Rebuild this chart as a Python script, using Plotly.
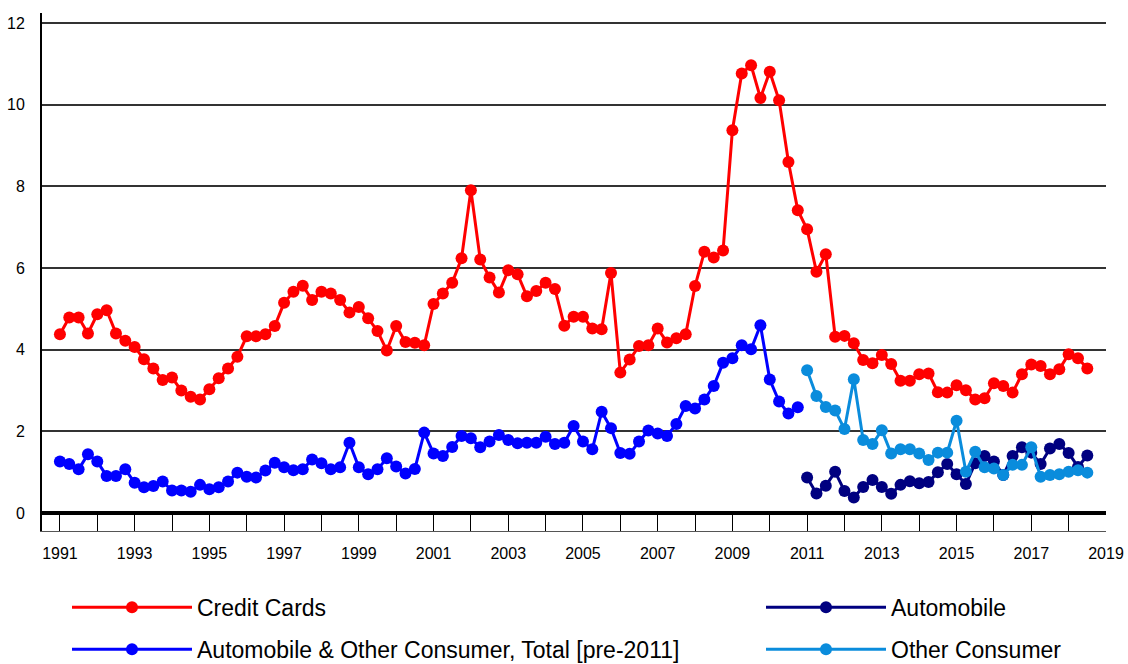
import plotly.graph_objects as go

# Quarterly observations (decimal year positions)
credit_cards = [
    4.38, 4.79, 4.79, 4.40, 4.87, 4.97, 4.40, 4.22,   # 1991-1992
    4.07, 3.77, 3.54, 3.26, 3.32, 3.00, 2.85, 2.78,   # 1993-1994
    3.03, 3.30, 3.54, 3.83, 4.33, 4.33, 4.38, 4.58,   # 1995-1996
    5.15, 5.42, 5.57, 5.22, 5.42, 5.38, 5.22, 4.91,   # 1997-1998
    5.05, 4.77, 4.46, 3.98, 4.58, 4.19, 4.17, 4.11,   # 1999-2000
    5.12, 5.38, 5.64, 6.24, 7.91, 6.21, 5.77, 5.40,   # 2001-2002
    5.95, 5.85, 5.31, 5.44, 5.64, 5.49, 4.59, 4.81,   # 2003-2004
    4.81, 4.52, 4.50, 5.88, 3.44, 3.76, 4.09, 4.11,   # 2005-2006
    4.52, 4.18, 4.28, 4.38, 5.56, 6.40, 6.26, 6.43,   # 2007-2008
    9.38, 10.77, 10.97, 10.17, 10.81, 10.11, 8.60, 7.42,  # 2009-2010
    6.95, 5.91, 6.34, 4.32, 4.34, 4.16, 3.75, 3.67,   # 2011-2012
    3.87, 3.65, 3.24, 3.24, 3.40, 3.42, 2.96, 2.95,   # 2013-2014
    3.13, 3.01, 2.78, 2.81, 3.18, 3.11, 2.95, 3.40,   # 2015-2016
    3.64, 3.60, 3.40, 3.52, 3.89, 3.79, 3.54,         # 2017-2018Q3
]

auto_other_total = [
    1.26, 1.20, 1.07, 1.44, 1.26, 0.91, 0.91, 1.07,   # 1991-1992
    0.74, 0.63, 0.66, 0.77, 0.55, 0.55, 0.52, 0.69,   # 1993-1994
    0.58, 0.63, 0.77, 0.99, 0.89, 0.87, 1.04, 1.23,   # 1995-1996
    1.12, 1.05, 1.07, 1.31, 1.22, 1.07, 1.12, 1.72,   # 1997-1998
    1.12, 0.95, 1.07, 1.34, 1.14, 0.97, 1.08, 1.97,   # 1999-2000
    1.46, 1.40, 1.62, 1.89, 1.83, 1.61, 1.75, 1.91,   # 2001-2002
    1.79, 1.71, 1.72, 1.72, 1.87, 1.69, 1.72, 2.13,   # 2003-2004
    1.75, 1.56, 2.48, 2.08, 1.47, 1.45, 1.75, 2.02,   # 2005-2006
    1.95, 1.89, 2.18, 2.62, 2.56, 2.78, 3.11, 3.68,   # 2007-2008
    3.79, 4.11, 4.01, 4.60, 3.27, 2.73, 2.44, 2.59,   # 2009-2010
]

automobile = [
    0.87, 0.48, 0.67, 1.01, 0.54, 0.38, 0.64, 0.81,   # 2011-2012
    0.64, 0.47, 0.69, 0.78, 0.73, 0.76, 1.00, 1.20,   # 2013-2014
    0.95, 0.71, 1.22, 1.40, 1.26, 0.93, 1.40, 1.61,   # 2015-2016
    1.48, 1.20, 1.58, 1.69, 1.47, 1.13, 1.41,         # 2017-2018Q3
]

other_consumer = [
    3.50, 2.87, 2.60, 2.51, 2.06, 3.28, 1.79, 1.69,   # 2011-2012
    2.03, 1.46, 1.56, 1.56, 1.46, 1.30, 1.48, 1.48,   # 2013-2014
    2.26, 1.01, 1.50, 1.12, 1.09, 0.93, 1.18, 1.18,   # 2015-2016
    1.61, 0.89, 0.93, 0.95, 1.01, 1.05, 0.99,         # 2017-2018Q3
]

x_tick_years = list(range(1991, 2020))
x_tick_labels = [str(y) if (y - 1991) % 2 == 0 else "" for y in x_tick_years]
y_tick_vals = [0, 2, 4, 6, 8, 10, 12]


def quarters(start, n):
    return [start + i / 4 for i in range(n)]


x_cc = quarters(1991, len(credit_cards))
x_tot = quarters(1991, len(auto_other_total))
x_auto = quarters(2011, len(automobile))
x_oth = quarters(2011, len(other_consumer))

RED = "#FF0000"
BLUE = "#0000FF"
NAVY = "#000080"
LIGHT = "#0A8CDC"

fig = go.Figure()


def add(x, y, name, color, legend, group):
    fig.add_trace(go.Scatter(
        x=x, y=y, name=name, mode="lines+markers",
        line=dict(color=color, width=3),
        marker=dict(color=color, size=12, symbol="circle"),
        legend=legend, legendgroup=group,
    ))


add(x_cc, credit_cards, "Credit Cards", RED, "legend", "g1")
add(x_tot, auto_other_total, "Automobile & Other Consumer, Total [pre-2011]", BLUE, "legend", "g2")
add(x_auto, automobile, "Automobile", NAVY, "legend2", "g3")
add(x_oth, other_consumer, "Other Consumer", LIGHT, "legend2", "g4")

legend_common = dict(
    font=dict(family="Liberation Sans, Arial, sans-serif", size=23, color="#000000"),
    bgcolor="rgba(0,0,0,0)", borderwidth=0,
    orientation="v", xanchor="left", yanchor="top",
    itemwidth=120, tracegroupgap=9, traceorder="grouped",
)

fig.update_layout(
    width=1128, height=664,
    margin=dict(l=42, r=22, t=13, b=133, autoexpand=False),
    paper_bgcolor="white", plot_bgcolor="white",
    font=dict(family="Liberation Sans, Arial, sans-serif", size=16, color="#000000"),
    showlegend=True,
    legend=dict(x=(67 - 42) / 1064, y=-0.106, **legend_common),
    legend2=dict(x=(761 - 42) / 1064, y=-0.106, **legend_common),
    xaxis=dict(
        range=[1990.52, 2019.0],
        tickmode="array", tickvals=x_tick_years, ticktext=x_tick_labels,
        ticks="inside", ticklen=18, tickwidth=1, tickcolor="#000000",
        showline=True, linecolor="#555555", linewidth=1,
        showgrid=False, zeroline=False,
        ticklabelstandoff=8,
        tickfont=dict(size=16, color="#000000"),
    ),
    yaxis=dict(
        range=[-0.44, 12.25],
        tickmode="array", tickvals=y_tick_vals,
        ticks="", showline=True, linecolor="#000000", linewidth=2,
        showgrid=True, gridcolor="#333333", gridwidth=1.5,
        zeroline=True, zerolinecolor="#000000", zerolinewidth=4,
        ticklabelstandoff=12,
        tickfont=dict(size=16, color="#000000"),
    ),
)

fig.write_html(
    "out.html",
    config={"displayModeBar": False},
    post_script="document.body.style.margin='0';document.body.style.padding='0';",
)
